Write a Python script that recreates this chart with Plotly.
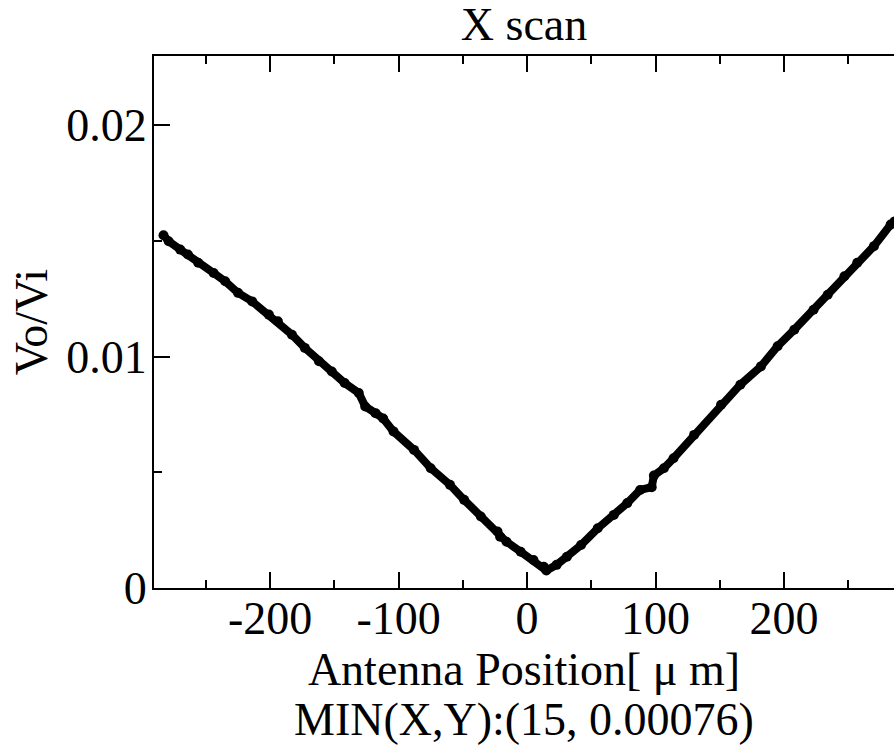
import plotly.graph_objects as go

# Antenna position (µm) and Vo/Vi
x_pos = [-283, -279, -270, -264, -256, -244, -235, -225, -214, -201, -194, -183,
         -173, -162, -152, -142, -131, -126, -118, -112, -104, -88, -75, -60,
         -49, -36, -23, -21, -16, -5, 5, 13, 15, 23, 31, 42, 55, 67.5, 78, 88,
         97, 98.7, 106.5, 114, 130, 151, 166, 182, 195, 208, 223, 234, 247, 257,
         270, 283, 286]
vo_vi = [0.01525, 0.01499, 0.01463, 0.01442, 0.01406, 0.01362, 0.01326, 0.01276,
         0.01239, 0.01182, 0.01153, 0.01095, 0.01038, 0.00980, 0.00936, 0.00886,
         0.00843, 0.00785, 0.00756, 0.00733, 0.00677, 0.00597, 0.00518, 0.00446,
         0.00381, 0.00309, 0.00244, 0.00222, 0.00200, 0.00157, 0.00121, 0.00092,
         0.00076, 0.00100, 0.00135, 0.00186, 0.00258, 0.00316, 0.00367, 0.00424,
         0.00436, 0.00486, 0.00518, 0.00561, 0.00662, 0.00792, 0.00879, 0.00958,
         0.01045, 0.01117, 0.01203, 0.01268, 0.01348, 0.01406, 0.01478, 0.01571,
         0.01585]

x_ticks = [-200, -100, 0, 100, 200]
x_tick_labels = ["-200", "-100", "0", "100", "200"]
y_ticks = [0, 0.01, 0.02]
y_tick_labels = ["0", "0.01", "0.02"]

FONT = "Liberation Serif"
FS = 46

fig = go.Figure()
fig.add_trace(go.Scatter(
    x=x_pos, y=vo_vi, mode="lines+markers",
    line=dict(color="black", width=8),
    marker=dict(color="black", size=10),
    showlegend=False, hoverinfo="skip",
))

fig.update_layout(
    width=894, height=746,
    margin=dict(l=154, r=0, t=56, b=158),
    paper_bgcolor="white", plot_bgcolor="white",
    font=dict(family=FONT, size=FS, color="black"),
    title=dict(text="X scan", x=0.5, xref="paper", xanchor="center",
               y=1 - 24 / 746, yref="container", yanchor="middle",
               font=dict(family=FONT, size=FS, color="black")),
    xaxis=dict(
        range=[-290.4, 285.6], tickmode="array", tickvals=x_ticks, ticktext=x_tick_labels,
        ticks="inside", ticklen=16, tickwidth=2, tickcolor="black",
        showline=True, linewidth=2, linecolor="black", mirror="ticks",
        showgrid=False, zeroline=False, ticklabelstandoff=-11,
        minor=dict(dtick=50, tick0=0, ticks="inside", ticklen=8, tickwidth=2, tickcolor="black", showgrid=False),
        tickfont=dict(family=FONT, size=FS),
        title=dict(text="Antenna Position[ μ m]", font=dict(family=FONT, size=FS), standoff=4),
    ),
    yaxis=dict(
        range=[0, 0.0230], tickmode="array", tickvals=y_ticks, ticktext=y_tick_labels,
        ticks="inside", ticklen=16, tickwidth=2, tickcolor="black",
        showline=True, linewidth=2, linecolor="black", mirror=False,
        showgrid=False, zeroline=False, ticklabelstandoff=-4,
        minor=dict(dtick=0.005, tick0=0, ticks="inside", ticklen=8, tickwidth=2, tickcolor="black", showgrid=False),
        tickfont=dict(family=FONT, size=FS),
        title=dict(text="Vo/Vi", font=dict(family=FONT, size=FS), standoff=4),
    ),
    yaxis2=dict(
        range=[0, 0.0230], overlaying="y", side="right", tickmode="array", tickvals=y_ticks,
        showticklabels=False, ticks="inside", ticklen=16, tickwidth=2, tickcolor="black",
        showline=False, showgrid=False, zeroline=False,
        minor=dict(dtick=0.005, tick0=0, ticks="inside", ticklen=8, tickwidth=2, tickcolor="black", showgrid=False),
    ),
)

fig.add_annotation(
    text="MIN(X,Y):(15, 0.00076)", xref="paper", yref="paper",
    x=0.5, y=-(719 - 588) / 532, xanchor="center", yanchor="middle",
    showarrow=False, borderpad=0, font=dict(family=FONT, size=FS, color="black"),
)

fig.write_html("out.html")
